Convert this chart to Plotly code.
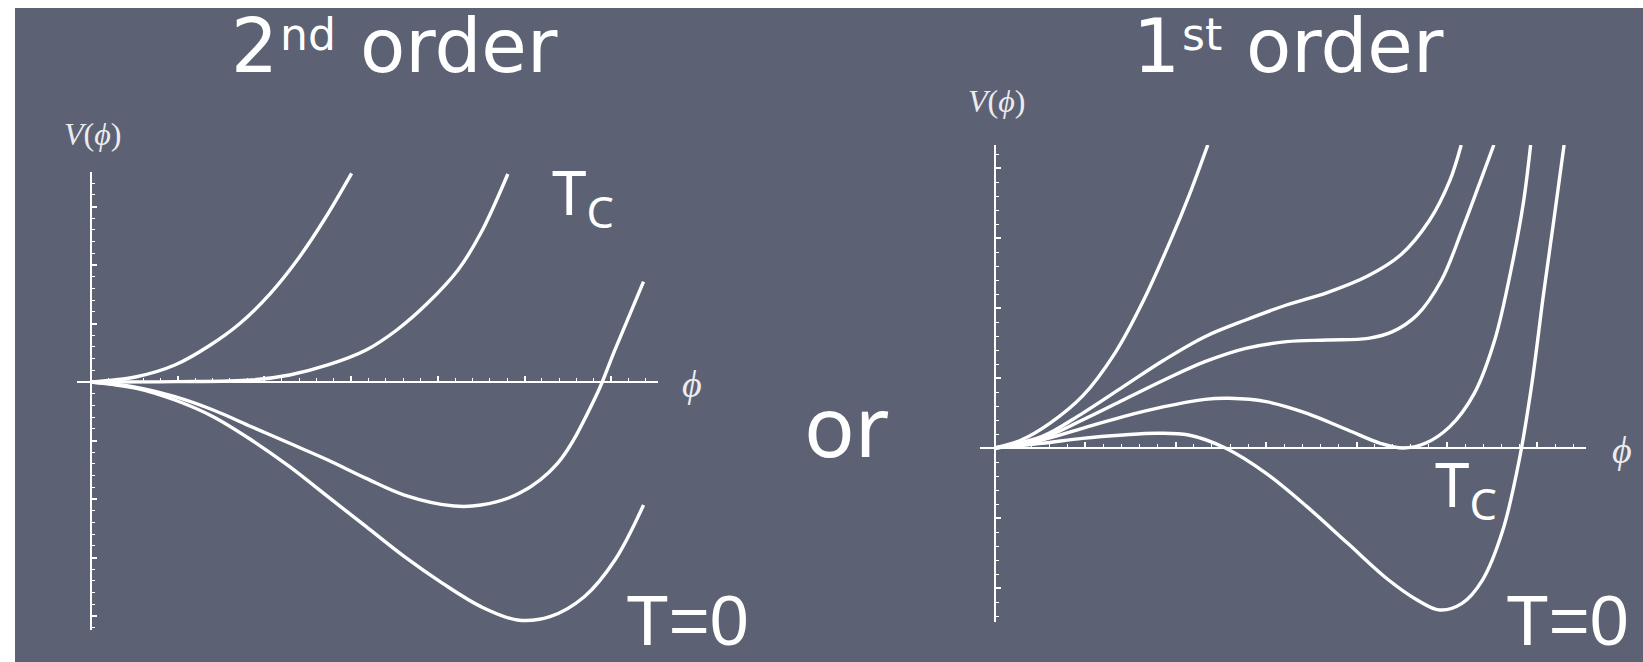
import plotly.graph_objects as go

# ---------------------------------------------------------------------------
# Potential curves V(phi), sampled points (phi, V) in axis units
# ---------------------------------------------------------------------------

# second-order transition panel
so_high_phi = [0.0, 0.525, 0.967, 1.364, 1.717, 2.070, 2.379, 2.688, 3.006]
so_high_v = [0.0, 0.090, 0.290, 0.620, 1.000, 1.516, 2.085, 2.769, 3.567]

so_tc_phi = [0.0, 0.967, 1.850, 2.291, 2.732, 3.174, 3.527, 3.880, 4.233, 4.498, 4.808]
so_tc_v = [0.0, 0.006, 0.034, 0.120, 0.291, 0.547, 0.889, 1.345, 1.915, 2.550, 3.556]

so_mid_phi = [0.0, 0.525, 0.967, 1.409, 1.850, 2.291, 2.732, 3.174, 3.615, 4.189,
              4.498, 4.939, 5.381, 5.822, 6.043, 6.373]
so_mid_v = [0.0, -0.091, -0.251, -0.479, -0.764, -1.048, -1.333, -1.647, -1.932, -2.120,
            -2.103, -1.903, -1.390, -0.250, 0.550, 1.715]

so_zero_phi = [0.0, 0.525, 0.967, 1.409, 1.850, 2.291, 2.732, 3.174, 3.615, 4.056,
               4.498, 4.918, 5.293, 5.690, 6.043, 6.373]
so_zero_v = [0.0, -0.108, -0.308, -0.593, -0.991, -1.447, -1.960, -2.473, -2.986, -3.442,
             -3.840, -4.068, -4.011, -3.670, -3.043, -2.103]

# first-order transition panel
fo_high_phi = [0.0, 0.290, 0.606, 0.967, 1.329, 1.645, 1.960, 2.142, 2.354]
fo_high_v = [0.0, 0.114, 0.352, 0.740, 1.360, 2.114, 3.019, 3.590, 4.329]

fo_upper_phi = [0.0, 0.516, 0.967, 1.419, 1.871, 2.322, 2.774, 3.225, 3.676, 4.128,
                4.489, 4.805, 5.031, 5.157]
fo_upper_v = [0.0, 0.162, 0.495, 0.876, 1.257, 1.590, 1.829, 2.043, 2.220, 2.460,
              2.760, 3.250, 3.820, 4.329]

fo_plateau_phi = [0.0, 0.516, 0.967, 1.419, 1.871, 2.322, 2.774, 3.225, 3.676, 4.128,
                  4.398, 4.669, 4.940, 5.166, 5.347, 5.518]
fo_plateau_v = [0.0, 0.138, 0.400, 0.686, 0.971, 1.233, 1.424, 1.519, 1.543, 1.567,
                1.662, 1.900, 2.400, 3.114, 3.733, 4.329]

fo_tc_phi = [0.0, 0.516, 0.967, 1.419, 1.871, 2.322, 2.593, 3.000, 3.451, 3.902,
             4.263, 4.512, 4.760, 5.031, 5.302, 5.528, 5.708, 5.844, 5.925]
fo_tc_v = [0.0, 0.114, 0.281, 0.448, 0.590, 0.695, 0.710, 0.662, 0.495, 0.257,
           0.067, 0.0, 0.067, 0.305, 0.781, 1.543, 2.543, 3.495, 4.329]

fo_zero_phi = [0.0, 0.516, 0.967, 1.419, 1.780, 2.141, 2.548, 3.000, 3.451, 3.902,
               4.354, 4.670, 4.918, 5.166, 5.392, 5.618, 5.799, 5.934, 6.069, 6.182, 6.295]
fo_zero_v = [0.0, 0.067, 0.138, 0.186, 0.210, 0.186, 0.0, -0.362, -0.838, -1.362,
             -1.886, -2.171, -2.314, -2.219, -1.886, -1.171, -0.171, 0.876, 2.210, 3.257, 4.329]

# heading pieces: numeral, ordinal suffix, word
heading_left = ["2", "nd", "order"]
heading_right = ["1", "st", "order"]
tc_label = "T<sub>C</sub>"
zero_label = "T=0"
middle_word = "or"
v_label = "<i>V</i>(<i>ϕ</i>)"
phi_label = "<i>ϕ</i>"

# ---------------------------------------------------------------------------
W, H = 1643, 662
BOARD = "#5c6274"
CHALK = "#ffffff"


def px(x):
    return x / W


def py(y):
    return 1 - y / H


fig = go.Figure()

left_curves = [(so_high_phi, so_high_v), (so_tc_phi, so_tc_v),
               (so_mid_phi, so_mid_v), (so_zero_phi, so_zero_v)]
right_curves = [(fo_high_phi, fo_high_v), (fo_upper_phi, fo_upper_v),
                (fo_plateau_phi, fo_plateau_v), (fo_tc_phi, fo_tc_v),
                (fo_zero_phi, fo_zero_v)]

curve_line = dict(color=CHALK, width=3.4, shape="spline", smoothing=1.0)
for xs, ys in left_curves:
    fig.add_trace(go.Scatter(x=xs, y=ys, mode="lines", xaxis="x", yaxis="y",
                             line=curve_line, hoverinfo="skip", showlegend=False))
for xs, ys in right_curves:
    fig.add_trace(go.Scatter(x=xs, y=ys, mode="lines", xaxis="x2", yaxis="y2",
                             line=curve_line, hoverinfo="skip", showlegend=False))


def axis_style(**kw):
    base = dict(showgrid=False, zeroline=False, showticklabels=False,
                showline=True, linecolor=CHALK, linewidth=2,
                ticks="inside", ticklen=5, tickwidth=1.5, tickcolor=CHALK,
                tick0=0, dtick=1,
                minor=dict(ticks="inside", ticklen=3, tickwidth=1.2,
                           tickcolor=CHALK, dtick=0.2, showgrid=False),
                fixedrange=True)
    base.update(kw)
    return base


# panel geometry in pixels: axis extents, origin and pixels per unit
L = dict(x0=77, x1=658, ox=91, ux=86.7, y0=172, y1=630, oy=382, uy=58.5)
R = dict(x0=980, x1=1586, ox=995, ux=90.4, y0=145, y1=622, oy=448, uy=70.0)


def panel_axes(g):
    xa = axis_style(domain=[px(g["x0"]), px(g["x1"])],
                    range=[(g["x0"] - g["ox"]) / g["ux"], (g["x1"] - g["ox"]) / g["ux"]],
                    anchor="free", position=py(g["oy"]))
    ya = axis_style(domain=[py(g["y1"]), py(g["y0"])],
                    range=[(g["oy"] - g["y1"]) / g["uy"], (g["oy"] - g["y0"]) / g["uy"]],
                    anchor="free", position=px(g["ox"]), linewidth=1.8)
    return xa, ya


xa1, ya1 = panel_axes(L)
xa2, ya2 = panel_axes(R)

head_font = dict(family="DejaVu Sans, sans-serif", size=74, color=CHALK)
suffix_font = dict(family="DejaVu Sans, sans-serif", size=44, color=CHALK)
hand_font = dict(family="Noto Sans, DejaVu Sans, sans-serif", size=62, color=CHALK)
zero_font = dict(family="Liberation Sans, Arial, sans-serif", size=70, color=CHALK)
serif_font = dict(family="Liberation Serif, DejaVu Serif, serif", size=32, color="#ececf0")


def heading(parts, x_num, x_suf, x_word):
    return [
        dict(text=parts[0], x=px(x_num), y=py(1), font=head_font,
             xanchor="left", yanchor="top"),
        dict(text=parts[1], x=px(x_suf), y=py(7), font=suffix_font,
             xanchor="left", yanchor="top"),
        dict(text=parts[2], x=px(x_word), y=py(1), font=head_font,
             xanchor="left", yanchor="top"),
    ]


annotations = heading(heading_left, 229, 278, 358) + heading(heading_right, 1131, 1180, 1244) + [
    dict(text=v_label, x=px(92), y=py(134), font=serif_font),
    dict(text=v_label, x=px(996), y=py(101), font=serif_font),
    dict(text=phi_label, x=px(692), y=py(384), font=dict(serif_font, size=38)),
    dict(text=phi_label, x=px(1622), y=py(450), font=dict(serif_font, size=38)),
    dict(text=tc_label, x=px(583), y=py(195), font=hand_font),
    dict(text=tc_label, x=px(1466), y=py(487), font=hand_font),
    dict(text=zero_label, x=px(687), y=py(621), font=zero_font),
    dict(text=zero_label, x=px(1567), y=py(621), font=zero_font),
    dict(text=middle_word, x=px(847), y=py(424), font=dict(hand_font, size=84)),
]
for a in annotations:
    a.update(xref="paper", yref="paper", showarrow=False)
    a.setdefault("xanchor", "center")
    a.setdefault("yanchor", "middle")

fig.update_layout(
    width=W, height=H,
    margin=dict(l=0, r=0, t=0, b=0),
    paper_bgcolor="#ffffff",
    plot_bgcolor="rgba(0,0,0,0)",
    xaxis=xa1, yaxis=ya1, xaxis2=xa2, yaxis2=ya2,
    annotations=annotations,
    shapes=[dict(type="rect", xref="paper", yref="paper",
                 x0=px(15), x1=1, y0=0, y1=py(8),
                 fillcolor=BOARD, line=dict(width=0), layer="below")],
    showlegend=False,
)

fig.write_html("out.html", config={"displayModeBar": False})
